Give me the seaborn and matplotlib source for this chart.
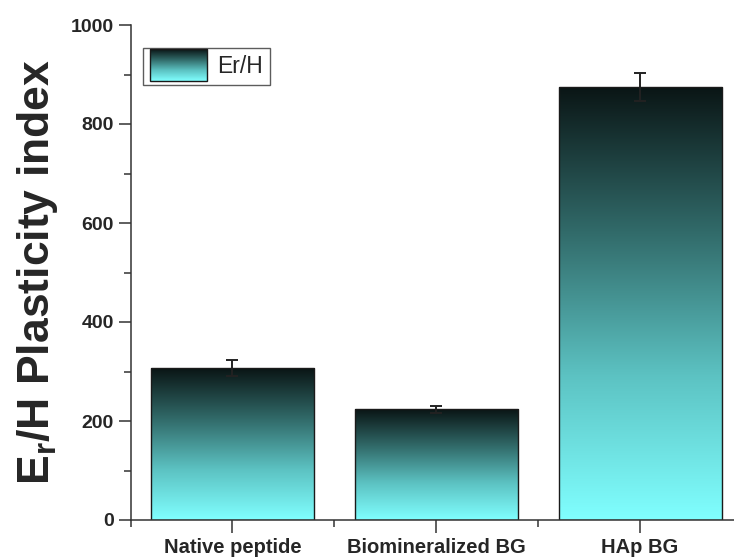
import numpy as np
import pandas as pd
import matplotlib
matplotlib.use("Agg")
import matplotlib.pyplot as plt
import seaborn as sns
from matplotlib.colors import LinearSegmentedColormap
from matplotlib.image import BboxImage
from matplotlib.patches import Rectangle
from matplotlib.transforms import Bbox, TransformedBbox
from matplotlib.legend_handler import HandlerBase
from matplotlib.ticker import MultipleLocator, FixedLocator

# Plasticity index per sample
samples = ["Native peptide", "Biomineralized BG", "HAp BG"]
plasticity = [307, 224, 875]
plasticity_err = [16, 7, 29]
series_name = "Er/H"
y_ticks = [0, 200, 400, 600, 800, 1000]

sns.set_theme(style="white")
plt.rcParams["font.family"] = ["Liberation Sans", "DejaVu Sans"]
plt.rcParams["mathtext.fontset"] = "custom"
plt.rcParams["mathtext.rm"] = "Liberation Sans:bold"
plt.rcParams["mathtext.it"] = "Liberation Sans:bold"
plt.rcParams["mathtext.bf"] = "Liberation Sans:bold"

grad_cmap = LinearSegmentedColormap.from_list(
    "teal", ["#80ffff", "#5cc2c2", "#316a69", "#0a1515"])
grad = np.linspace(0, 1, 256).reshape(-1, 1)

df = pd.DataFrame({"sample": samples, "value": plasticity})

fig = plt.figure(figsize=(7.34, 5.58), dpi=100)
W, H = 734, 558
ax = fig.add_axes([130.5 / W, (H - 520) / H, (742 - 130.5) / W, 495 / H])

sns.barplot(data=df, x="sample", y="value", order=samples, errorbar=None,
            width=0.8, color="#80ffff", ax=ax)

# Fill each bar with a vertical gradient, dark at the top
for patch in ax.patches:
    x0, y0 = patch.get_x(), patch.get_y()
    w, h = patch.get_width(), patch.get_height()
    im = ax.imshow(grad, cmap=grad_cmap, aspect="auto", origin="lower",
                   extent=[x0, x0 + w, y0, y0 + h], zorder=1)
    im.set_clip_path(patch)
    patch.set_facecolor("none")
    patch.set_edgecolor("#1a1a1a")
    patch.set_linewidth(1.0)
    patch.set_zorder(2)

ax.errorbar(np.arange(len(samples)), plasticity, yerr=plasticity_err,
            fmt="none", ecolor="#222222", elinewidth=1.4, capsize=4.5,
            capthick=1.4, zorder=3)

ax.set_xlim(-0.5, 2.5)
ax.set_ylim(0, 1000)
ax.set_yticks(y_ticks)
ax.yaxis.set_minor_locator(MultipleLocator(100))
ax.xaxis.set_minor_locator(FixedLocator([-0.5, 0.5, 1.5, 2.5]))
ax.set_xticks(range(len(samples)))
ax.set_xticklabels(samples, fontsize=14.5, fontweight="bold")
for lab in ax.get_yticklabels():
    lab.set_fontsize(14)
    lab.set_fontweight("bold")
ax.tick_params(axis="both", which="major", direction="out", length=9,
               width=1.1, color="#333333", pad=3, left=True, bottom=True)
ax.tick_params(axis="both", which="minor", direction="out", length=5,
               width=1.1, color="#333333", left=True, bottom=True)
ax.tick_params(axis="x", which="major", pad=4)

for side in ["top", "right"]:
    ax.spines[side].set_visible(False)
for side in ["left", "bottom"]:
    ax.spines[side].set_color("#333333")
    ax.spines[side].set_linewidth(1.1)

ax.set_xlabel("")
ax.set_ylabel(r"E$_\mathregular{r}$/H Plasticity index", fontsize=32,
              fontweight="bold", labelpad=8)


class GradientHandler(HandlerBase):
    def create_artists(self, legend, orig_handle, xdescent, ydescent,
                       width, height, fontsize, trans):
        bb = Bbox.from_bounds(-xdescent, -ydescent - 4, width, height + 8)
        img = BboxImage(TransformedBbox(bb, trans), cmap=grad_cmap,
                        interpolation="bilinear", origin="lower")
        img.set_data(grad)
        rect = Rectangle((-xdescent, -ydescent - 4), width, height + 8,
                         facecolor="none", edgecolor="#1a1a1a",
                         linewidth=1.0, transform=trans)
        return [img, rect]


proxy = Rectangle((0, 0), 1, 1)
leg = ax.legend([proxy], [series_name], handler_map={Rectangle: GradientHandler()},
                loc="upper left", bbox_to_anchor=((143 - 130.5) / 611.5, 1 - (48 - 25) / 495),
                frameon=True, fancybox=False, fontsize=16.5, handlelength=2.5,
                handleheight=1.0, borderpad=0.3, handletextpad=0.45,
                borderaxespad=0)
leg.get_frame().set_edgecolor("#333333")
leg.get_frame().set_linewidth(1.0)

fig.savefig("out.png", dpi=100)
